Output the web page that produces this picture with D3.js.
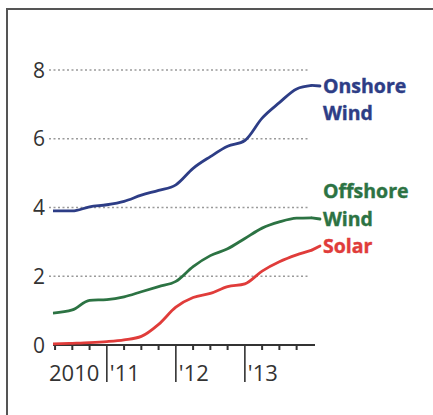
<!DOCTYPE html>
<html>
<head>
<meta charset="utf-8">
<script src="https://cdn.jsdelivr.net/npm/d3@7"></script>
<style>
  html, body { margin: 0; padding: 0; background: #fff; overflow: hidden; }
  svg { display: block; }
</style>
</head>
<body>
<svg id="chart" width="433" height="415"></svg>
<script>
// ---- data ----
const times = [2010.22, 2010.5, 2010.75, 2011.0, 2011.25, 2011.5, 2011.75, 2012.0,
               2012.25, 2012.5, 2012.75, 2013.0, 2013.25, 2013.5, 2013.75, 2013.97];
const onshore  = [3.9, 3.9, 4.02, 4.08, 4.18, 4.36, 4.5, 4.66, 5.14, 5.48, 5.78, 5.95, 6.6, 7.05, 7.45, 7.55];
const offshore = [0.93, 1.02, 1.3, 1.32, 1.4, 1.55, 1.7, 1.85, 2.28, 2.6, 2.8, 3.1, 3.4, 3.58, 3.69, 3.7];
const solar    = [0.03, 0.05, 0.07, 0.1, 0.15, 0.25, 0.6, 1.1, 1.38, 1.5, 1.7, 1.78, 2.15, 2.42, 2.62, 2.76];
const seriesNames = ["Onshore|Wind", "Offshore|Wind", "Solar"];
const seriesColors = ["#2d3d86", "#2c7343", "#e03c3a"];
const yTicks = [0, 2, 4, 6, 8];
const yearTicks = [2011, 2012, 2013];
const yearLabels = ["'11", "'12", "'13"];
const firstYearLabel = "2010";
const quarterTicks = [2010.25, 2010.5, 2010.75, 2011.25, 2011.5, 2011.75, 2012.25, 2012.5, 2012.75, 2013.25, 2013.5, 2013.75];

// ---- layout ----
const svg = d3.select("#chart");
const x = d3.scaleLinear().domain([2010.22, 2013.98]).range([53, 312.5]);
const y = d3.scaleLinear().domain([0, 8]).range([345, 70]);

// border (left and top edges only visible)
svg.append("path").attr("d", "M7,420V9H440")
  .attr("fill", "none").attr("stroke", "#555").attr("stroke-width", 2);

// gridlines
svg.append("g").selectAll("line").data(yTicks.filter(d => d > 0)).join("line")
  .attr("x1", 49).attr("x2", 308)
  .attr("y1", d => y(d)).attr("y2", d => y(d))
  .attr("stroke", "#9a9a9a").attr("stroke-width", 1.4)
  .attr("stroke-dasharray", "2,2.5");

// y labels
svg.append("g").selectAll("text").data(yTicks).join("text")
  .attr("x", 45).attr("y", d => y(d) + 7.5)
  .attr("text-anchor", "end")
  .attr("font-family", "'Open Sans', sans-serif")
  .attr("font-size", 21).attr("fill", "#333")
  .text(d => d);

// x axis line
svg.append("line").attr("x1", 53).attr("x2", 315).attr("y1", y(0)).attr("y2", y(0))
  .attr("stroke", "#333").attr("stroke-width", 2);
svg.append("g").selectAll("line").data(quarterTicks).join("line")
  .attr("x1", d => x(d)).attr("x2", d => x(d))
  .attr("y1", y(0)).attr("y2", y(0) + 5)
  .attr("stroke", "#333").attr("stroke-width", 2);
svg.append("g").selectAll("line").data(yearTicks).join("line")
  .attr("x1", d => x(d)).attr("x2", d => x(d))
  .attr("y1", y(0)).attr("y2", y(0) + 37)
  .attr("stroke", "#333").attr("stroke-width", 1.6);
svg.append("g").selectAll("text").data(yearTicks).join("text")
  .attr("x", d => x(d) + 3).attr("y", y(0) + 36)
  .attr("font-family", "'Open Sans', sans-serif")
  .attr("font-size", 22).attr("fill", "#333")
  .text((d, i) => yearLabels[i]);
svg.append("text").attr("x", 49).attr("y", y(0) + 36)
  .attr("font-family", "'Open Sans', sans-serif")
  .attr("font-size", 22).attr("fill", "#333")
  .text(firstYearLabel);

// lines
const allSeries = [onshore, offshore, solar];
const line = d3.line().x((d, i) => x(times[i])).y(d => y(d)).curve(d3.curveMonotoneX);
allSeries.forEach((vals, k) => {
  svg.append("path").datum(vals).attr("d", line)
    .attr("fill", "none").attr("stroke", seriesColors[k])
    .attr("stroke-width", 2.8).attr("stroke-linejoin", "round");
});

// labels with leaders
const labelX = 323;
const labelBaselines = [[93, 120], [198, 226], [253]];
const leaderY = [86, 219, 246];
allSeries.forEach((vals, k) => {
  const lx = x(times[times.length - 1]), ly = y(vals[vals.length - 1]);
  svg.append("line").attr("x1", lx).attr("y1", ly).attr("x2", labelX - 3).attr("y2", leaderY[k])
    .attr("stroke", seriesColors[k]).attr("stroke-width", 2.8).attr("stroke-linecap", "round");
  const parts = seriesNames[k].split("|");
  parts.forEach((p, j) => {
    svg.append("text").attr("x", labelX).attr("y", labelBaselines[k][j])
      .attr("font-family", "'Open Sans', sans-serif").attr("font-weight", "bold")
      .attr("font-size", 19.5).attr("fill", seriesColors[k])
      .attr("stroke", seriesColors[k]).attr("stroke-width", 0.4)
      .text(p);
  });
});
</script>
</body>
</html>
